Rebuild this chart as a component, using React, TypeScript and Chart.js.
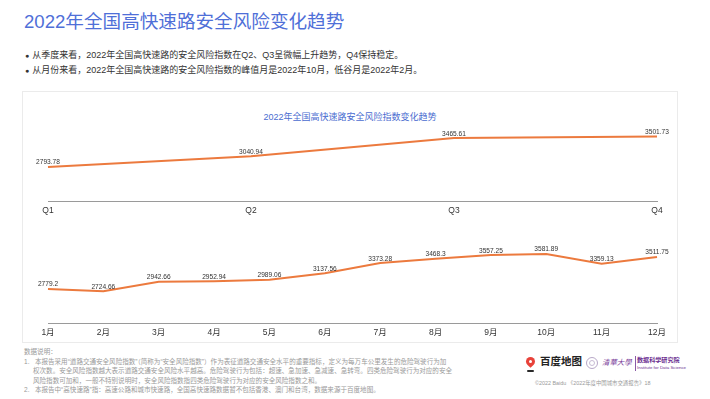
import React, { useEffect, useRef } from "react";
import { Chart, registerables } from "chart.js";

Chart.register(...registerables);

const quarterLabels = ["Q1", "Q2", "Q3", "Q4"];
const quarterValues = [2793.78, 3040.94, 3465.61, 3501.73];
const monthLabels = ["1月", "2月", "3月", "4月", "5月", "6月", "7月", "8月", "9月", "10月", "11月", "12月"];
const monthValues = [2779.2, 2724.66, 2942.66, 2952.94, 2989.06, 3137.56, 3373.28, 3468.3, 3557.25, 3581.89, 3359.13, 3511.75];

const FONT = '"Liberation Sans", "Noto Sans CJK SC", sans-serif';
const LINE_COLOR = "#EC7A3E";

const valueLabels = {
  id: "valueLabels",
  afterDatasetsDraw(chart: any) {
    const ctx = chart.ctx;
    const meta = chart.getDatasetMeta(0);
    const data = chart.data.datasets[0].data;
    ctx.save();
    ctx.font = `6.6px ${FONT}`;
    ctx.fillStyle = "#333";
    ctx.textAlign = "center";
    ctx.textBaseline = "bottom";
    meta.data.forEach((pt: any, i: number) => {
      ctx.fillText(String(data[i]), pt.x, pt.y - 1);
    });
    ctx.restore();
  },
};

function LineChart(props: {
  labels: string[];
  values: number[];
  min: number;
  max: number;
  width: number;
  height: number;
  tickSize: number;
}) {
  const ref = useRef<HTMLCanvasElement>(null);
  useEffect(() => {
    const chart = new Chart(ref.current as HTMLCanvasElement, {
      type: "line",
      data: {
        labels: props.labels,
        datasets: [
          {
            data: props.values,
            borderColor: LINE_COLOR,
            borderWidth: 2,
            pointRadius: 0,
            tension: 0,
            fill: false,
          },
        ],
      },
      options: {
        responsive: false,
        animation: false,
        layout: { padding: { left: 26, right: 21, top: 8, bottom: 0 } },
        plugins: { legend: { display: false }, tooltip: { enabled: false }, title: { display: false } },
        scales: {
          x: {
            offset: false,
            grid: { display: false, drawTicks: false },
            border: { display: true, color: "#9a9a9a", width: 1 },
            ticks: {
              color: "#333",
              font: { size: props.tickSize, family: FONT },
              padding: 5,
              autoSkip: false,
              maxRotation: 0,
            },
            afterFit: (axis: any) => {
              axis.height = 17;
            },
          },
          y: {
            display: false,
            min: props.min,
            max: props.max,
          },
        },
      },
      plugins: [valueLabels],
    } as any);
    return () => chart.destroy();
  }, []);
  return <canvas ref={ref} width={props.width} height={props.height} style={{ display: "block" }} />;
}

const abs = (left: number, top: number, extra: any = {}) => ({ position: "absolute" as const, left, top, ...extra });

export default function App() {
  const text = { fontFamily: FONT, color: "#333", whiteSpace: "nowrap" as const };
  const note = { ...text, color: "#9a9a9a", fontSize: 6.55, lineHeight: "9.5px" };
  return (
    <div style={{ position: "fixed", left: 0, top: 0, width: 710, height: 399, background: "#fff", overflow: "hidden", fontFamily: FONT }}>
      <div style={abs(24, 10, { ...text, fontSize: 18.6, color: "#4F6FD8", lineHeight: "24px" })}>
        2022年全国高快速路安全风险变化趋势
      </div>
      <div style={abs(25, 48, { ...text, fontSize: 9, lineHeight: "15px" })}>
        <div>
          <span style={{ fontSize: 7, marginRight: 3 }}>●</span>从季度来看，2022年全国高快速路的安全风险指数在Q2、Q3呈微幅上升趋势，Q4保持稳定。
        </div>
        <div>
          <span style={{ fontSize: 7, marginRight: 3 }}>●</span>从月份来看，2022年全国高快速路的安全风险指数的峰值月是2022年10月，低谷月是2022年2月。
        </div>
      </div>

      <div style={abs(22, 91, { width: 654, height: 250, border: "1px solid #ebebeb" })} />
      <div style={abs(22, 111, { width: 656, textAlign: "center", ...text, fontSize: 9, color: "#4A6CD0", lineHeight: "12px" })}>
        2022年全国高快速路安全风险指数变化趋势
      </div>
      <div style={abs(22, 120)}>
        <LineChart labels={quarterLabels} values={quarterValues} min={2000} max={3700} width={656} height={98} tickSize={8.5} />
      </div>
      <div style={abs(22, 232)}>
        <LineChart labels={monthLabels} values={monthValues} min={2000} max={3900} width={656} height={108} tickSize={8.5} />
      </div>

      <div style={abs(24, 347, note)}>
        <div>数据说明：</div>
        <div>1.&nbsp;&nbsp;&nbsp;本报告采用“道路交通安全风险指数”（简称为“安全风险指数”）作为表征道路交通安全水平的重要指标，定义为每万车公里发生的危险驾驶行为加</div>
        <div style={{ paddingLeft: 9 }}>权次数。安全风险指数越大表示道路交通安全风险水平越高。危险驾驶行为包括：超速、急加速、急减速、急转弯。四类危险驾驶行为对应的安全</div>
        <div style={{ paddingLeft: 9 }}>风险指数可加和，一般不特别说明时，安全风险指数指四类危险驾驶行为对应的安全风险指数之和。</div>
        <div>2.&nbsp;&nbsp;&nbsp;本报告中“高快速路”指：高速公路和城市快速路，全国高快速路数据暂不包括香港、澳门和台湾，数据来源于百度地图。</div>
      </div>

      {/* Baidu map logo */}
      <div style={abs(526, 357, { width: 9, height: 9, borderRadius: "50% 50% 50% 0", transform: "rotate(-45deg)", background: "#E8423A" })} />
      <div style={abs(529, 360, { width: 3, height: 3, borderRadius: "50%", background: "#fff" })} />
      <div style={abs(527, 370, { width: 7, height: 1.5, background: "#2a2a2a", borderRadius: 1 })} />
      <div style={abs(540, 355, { ...text, fontSize: 10.5, fontWeight: 700, color: "#222", lineHeight: "13px" })}>百度地图</div>

      {/* Tsinghua logo */}
      <div style={abs(586, 357, { width: 12, height: 12, borderRadius: "50%", border: "1px solid #b8a8c8", boxSizing: "border-box" })} />
      <div style={abs(589, 360, { width: 6, height: 6, borderRadius: "50%", border: "1px solid #c8bcd4", boxSizing: "border-box" })} />
      <div style={abs(602, 358, { ...text, fontSize: 7.4, color: "#7A3E9A", lineHeight: "10px", fontStyle: "italic" })}>清華大學</div>
      <div style={abs(635, 356, { width: 1, height: 15, background: "#8a5aa8" })} />
      <div style={abs(637, 356, { ...text, fontSize: 6.1, fontWeight: 700, color: "#6B2D8F", lineHeight: "8px" })}>数据科学研究院</div>
      <div style={abs(637, 365, { ...text, fontSize: 4.4, color: "#6B2D8F", lineHeight: "6px" })}>Institute for Data Science</div>

      <div style={abs(535, 379, { ...text, fontSize: 5.4, color: "#9a9a9a", lineHeight: "8px" })}>
        ©2022 Baidu 《2022年度中国城市交通报告》18
      </div>
    </div>
  );
}
